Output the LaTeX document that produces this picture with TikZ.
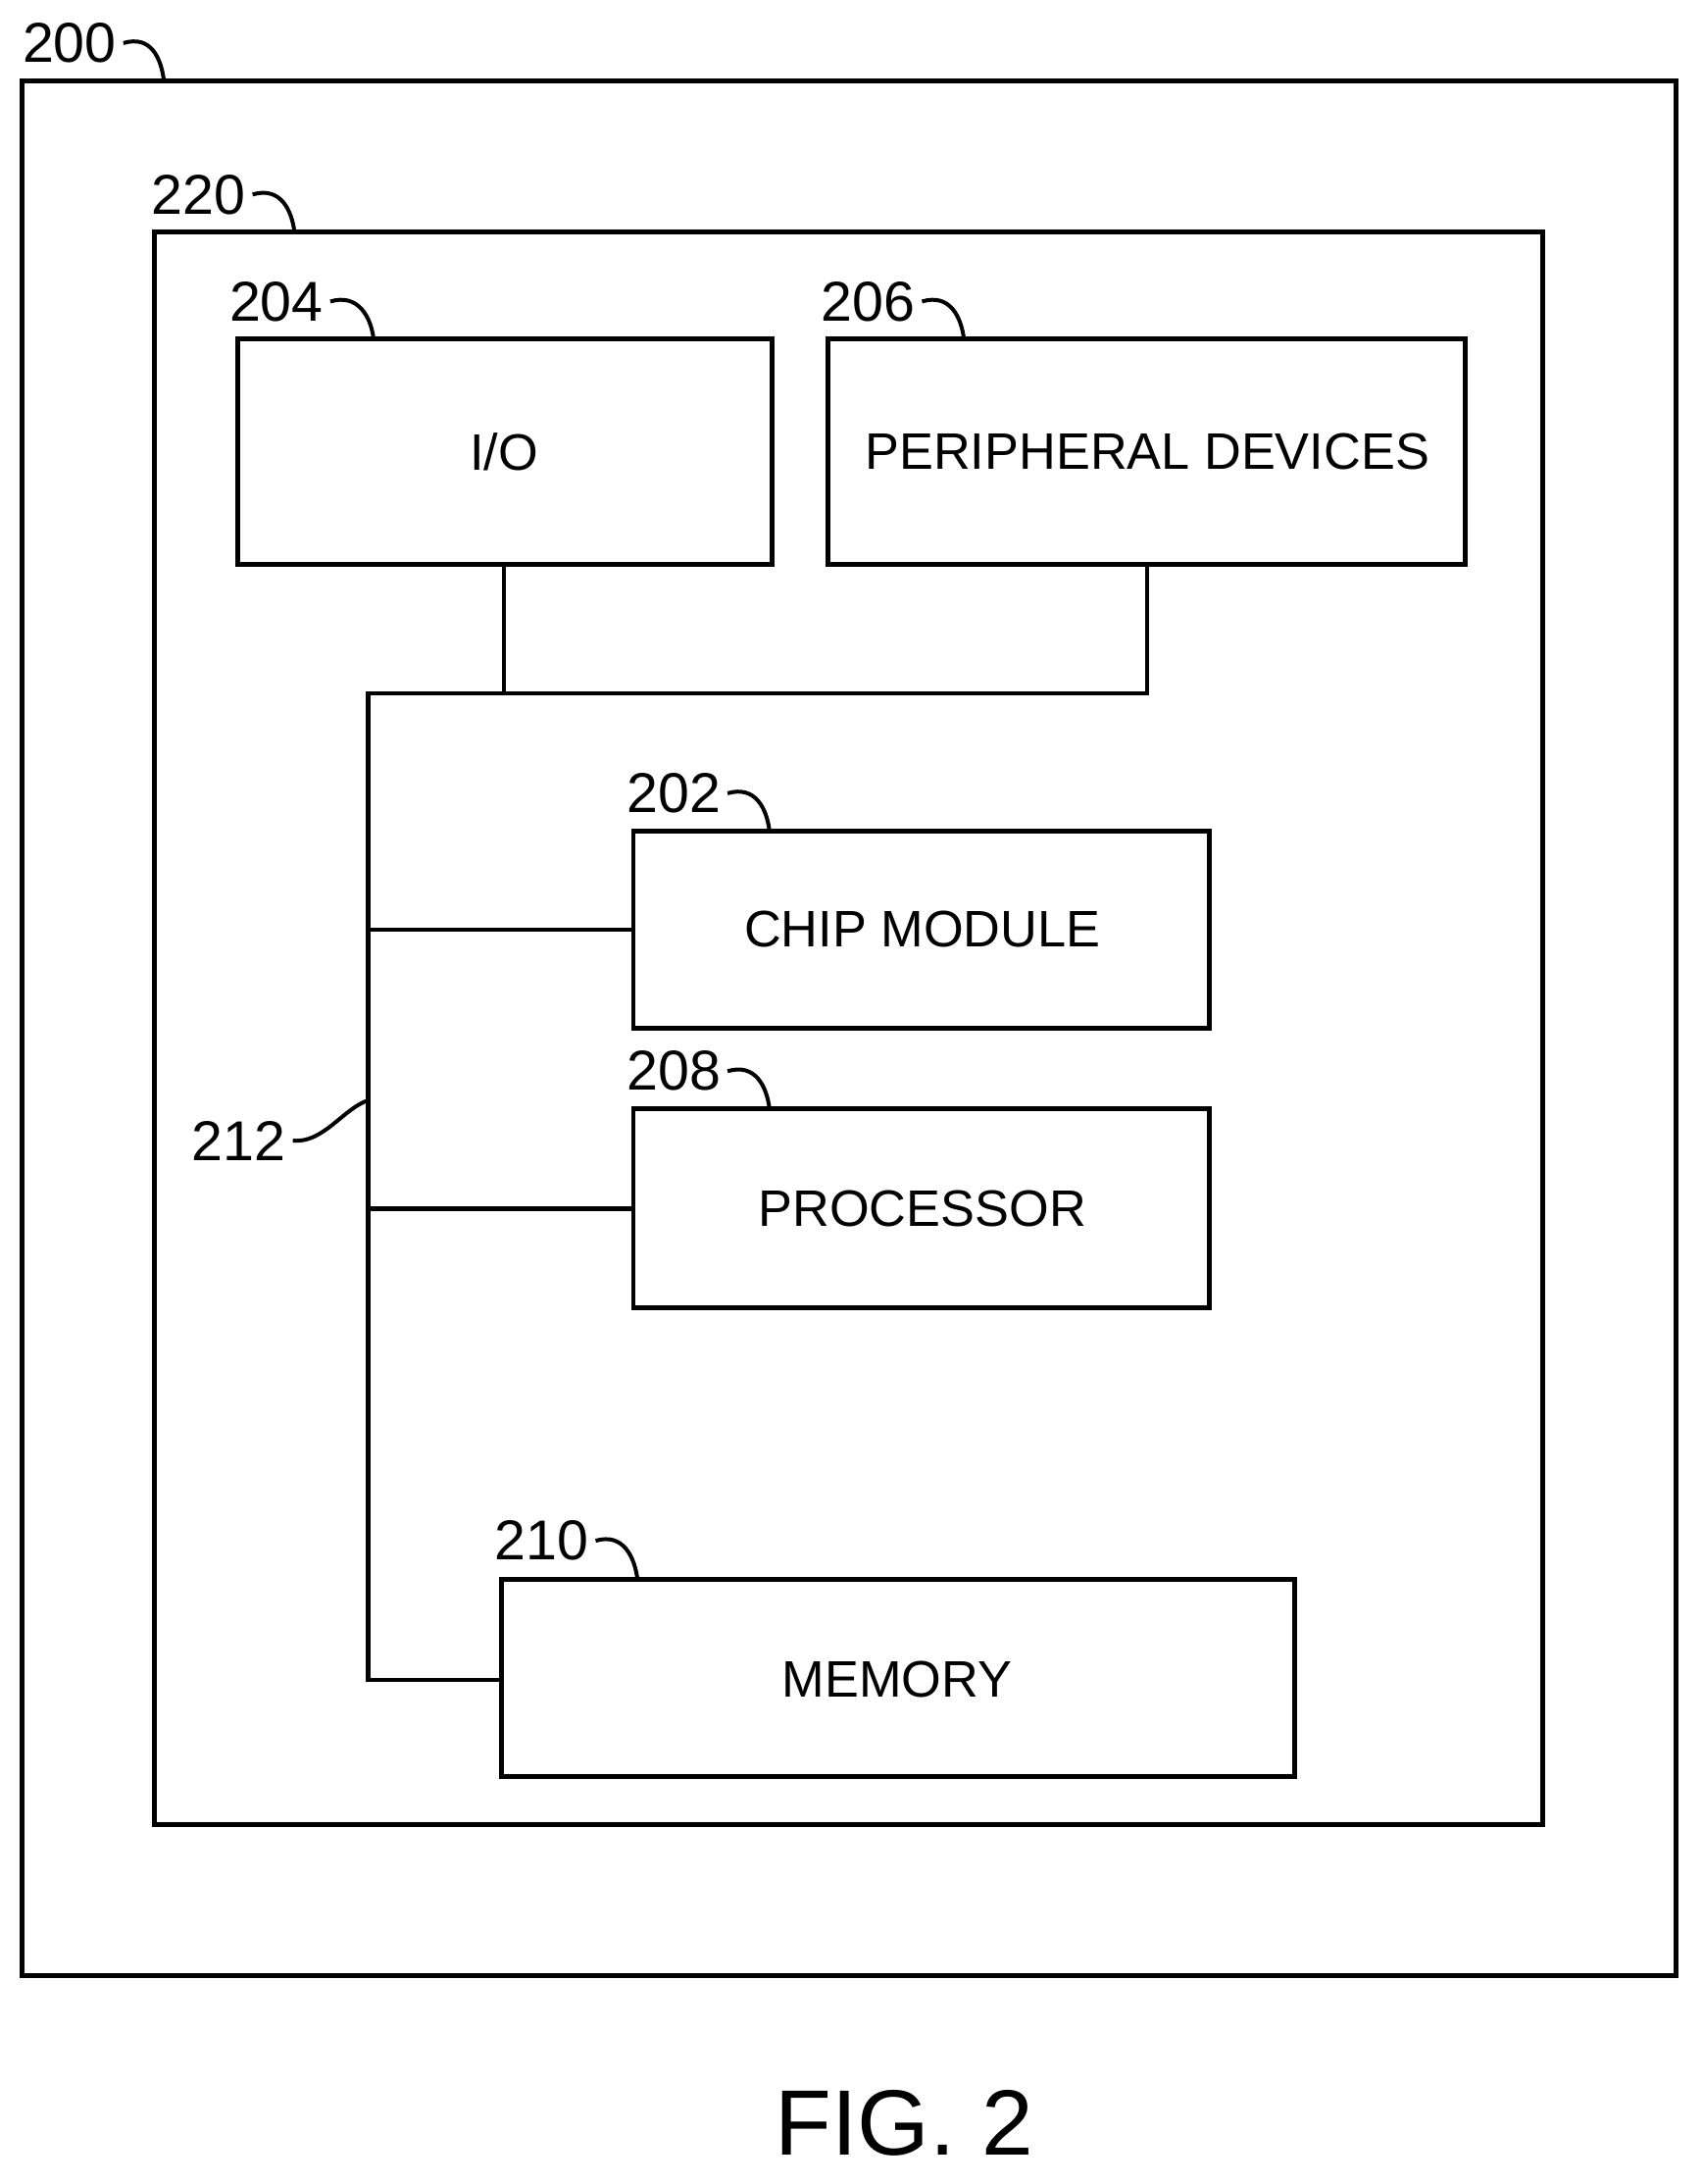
\documentclass[tikz,border=0pt]{standalone}
\usepackage{fontspec}
\setmainfont{Liberation Sans}
\begin{document}
\begin{tikzpicture}[x=0.01cm,y=-0.01cm,line width=0.9pt,
		box/.style={draw,line width=1pt},
		num/.style={font=\fontsize{11.5}{14}\selectfont,inner sep=1pt},
		txt/.style={font=\fontsize{10.5}{13}\selectfont},
		lead/.style={line width=0.8pt}]
	\useasboundingbox (0,0) rectangle (1226,1572);

	% frames
	\draw [box] (16,58) rectangle (1207,1422);
	\draw [box] (111,167) rectangle (1111,1313);

	% blocks
	\draw [box] (171,244) rectangle (556,406);
	\draw [box] (596,244) rectangle (1055,406);
	\draw [box] (456,598) rectangle (871,740);
	\draw [box] (456,798) rectangle (871,941);
	\draw [box] (361,1137) rectangle (932,1279);

	\node [txt] (io)   at (363,325)  {I/O};
	\node [txt] (per)  at (826,325)  {PERIPHERAL DEVICES};
	\node [txt] (chip) at (664,669)  {CHIP MODULE};
	\node [txt] (proc) at (664,870)  {PROCESSOR};
	\node [txt] (mem)  at (646,1209) {MEMORY};

	% bus 212
	\coordinate (busT) at (265,499);
	\coordinate (busB) at (265,1209);
	\draw (363,406) -- (363,499);
	\draw (826,406) -- (826,499) -- (busT) -- (busB) -- (361,1209);
	\draw (265,669) -- (456,669);
	\draw (265,870) -- (456,870);

	% reference numerals
	\node [num] (n200) at (50,31)   {200};
	\node [num] (n220) at (143,140) {220};
	\node [num] (n204) at (199,217) {204};
	\node [num] (n206) at (625,217) {206};
	\node [num] (n202) at (485,571) {202};
	\node [num] (n208) at (485,771) {208};
	\node [num] (n210) at (390,1109){210};
	\node [num] (n212) at (172,821) {212};

	\draw [lead] (n200.east) .. controls +(20,-6) and +(-2,-16) .. (118,58);
	\draw [lead] (n220.east) .. controls +(20,-6) and +(-2,-16) .. (212,167);
	\draw [lead] (n204.east) .. controls +(20,-6) and +(-2,-16) .. (269,244);
	\draw [lead] (n206.east) .. controls +(20,-6) and +(-2,-16) .. (694,244);
	\draw [lead] (n202.east) .. controls +(20,-6) and +(-2,-16) .. (554,598);
	\draw [lead] (n208.east) .. controls +(20,-6) and +(-2,-16) .. (554,798);
	\draw [lead] (n210.east) .. controls +(20,-6) and +(-2,-16) .. (459,1137);
	\draw [lead] (n212.east) .. controls +(22,2) and +(-18,6) .. (265,792);

	\node [font=\fontsize{19}{23}\selectfont] (fig) at (651,1528) {FIG. 2};
\end{tikzpicture}
\end{document}
